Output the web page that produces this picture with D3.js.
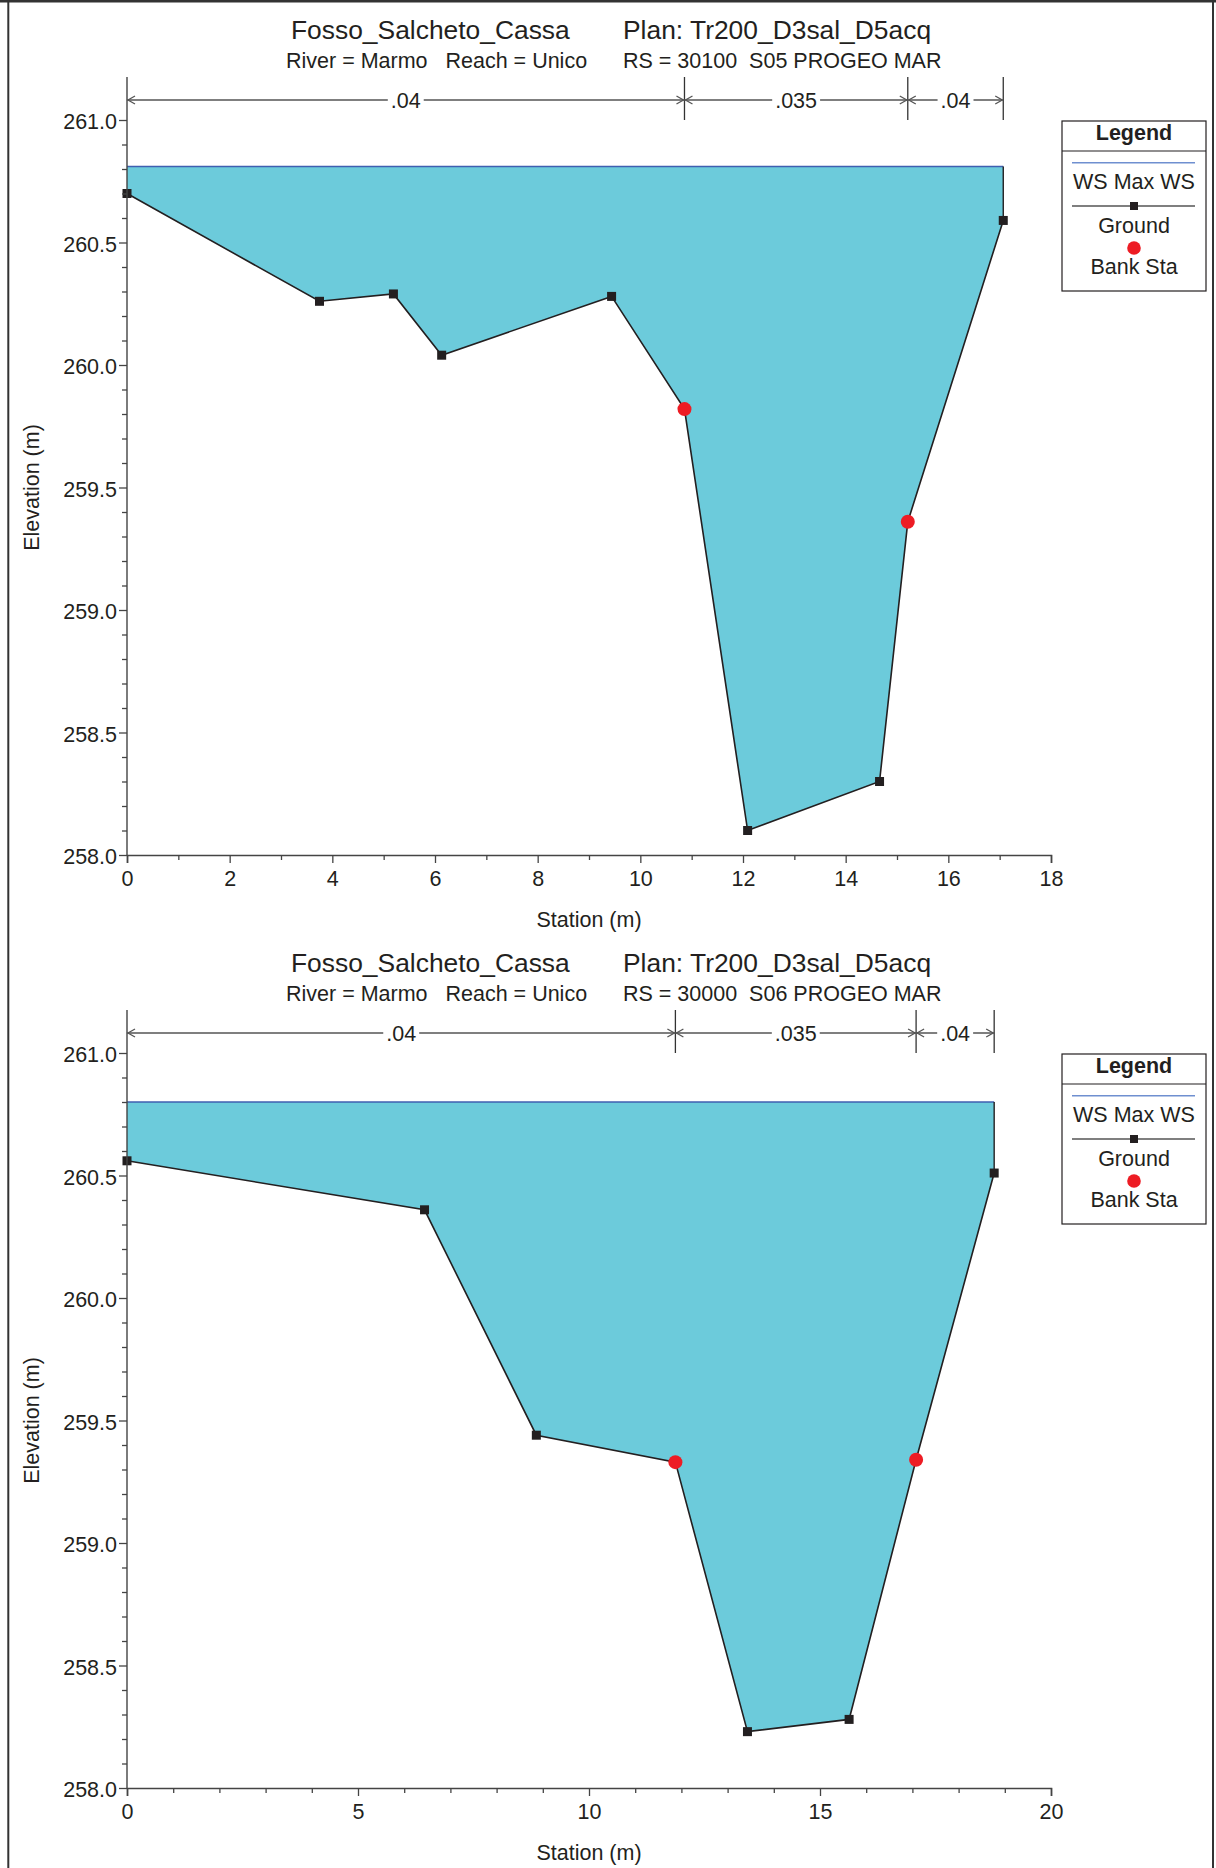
<!DOCTYPE html>
<html>
<head>
<meta charset="utf-8">
<script src="https://cdn.jsdelivr.net/npm/d3@7/dist/d3.min.js"></script>
<style>
  html, body { margin: 0; padding: 0; background: #fff; }
  svg { display: block; }
  text { font-family: "Liberation Sans", Arial, Helvetica, sans-serif; fill: #231f20; }
</style>
</head>
<body>
<script>
// ---------- DATA ----------
const chartTitle = "Fosso_Salcheto_Cassa";
const planTitle = "Plan: Tr200_D3sal_D5acq";
const riverReach = "River = Marmo   Reach = Unico";

// Top cross-section (RS 30100)
const topRS = "RS = 30100  S05 PROGEO MAR";
const topStation   = [0, 3.75, 5.19, 6.13, 9.44, 10.86, 12.09, 14.66, 15.21, 17.07];
const topElevation = [260.70, 260.26, 260.29, 260.04, 260.28, 259.82, 258.10, 258.30, 259.36, 260.59];
const topWS = 260.81;
const topBankSta  = [10.86, 15.21];
const topBankElev = [259.82, 259.36];
const topNBreaks = [0, 10.86, 15.21, 17.07];
const topNValues = [".04", ".035", ".04"];
const topXDomain = [0, 18];
const topXTicks = [0, 2, 4, 6, 8, 10, 12, 14, 16, 18];
const topXMinorTicks = [1, 3, 5, 7, 9, 11, 13, 15, 17];

// Bottom cross-section (RS 30000)
const botRS = "RS = 30000  S06 PROGEO MAR";
const botStation   = [0, 6.44, 8.86, 11.87, 13.43, 15.63, 17.08, 18.77];
const botElevation = [260.56, 260.36, 259.44, 259.33, 258.23, 258.28, 259.34, 260.51];
const botWS = 260.80;
const botBankSta  = [11.87, 17.08];
const botBankElev = [259.33, 259.34];
const botNBreaks = [0, 11.87, 17.08, 18.77];
const botNValues = [".04", ".035", ".04"];
const botXDomain = [0, 20];
const botXTicks = [0, 5, 10, 15, 20];
const botXMinorTicks = [1, 2, 3, 4, 6, 7, 8, 9, 11, 12, 13, 14, 16, 17, 18, 19];

const yDomain = [258, 261];
const yTicks = [258.0, 258.5, 259.0, 259.5, 260.0, 260.5, 261.0];
const yMinorTicks = [258.1, 258.2, 258.3, 258.4, 258.6, 258.7, 258.8, 258.9,
                     259.1, 259.2, 259.3, 259.4, 259.6, 259.7, 259.8, 259.9,
                     260.1, 260.2, 260.3, 260.4, 260.6, 260.7, 260.8, 260.9];

const legendItems = ["WS Max WS", "Ground", "Bank Sta"];

// ---------- STYLE ----------
const W = 1216, H = 1868;
const FS = 21.5;
const waterFill = "#6ccbdb";
const wsColor = "#3f5fb0";
const axisColor = "#444";

const svg = d3.select("body").append("svg").attr("width", W).attr("height", H);

// outer frame
svg.append("line").attr("x1", 0).attr("x2", W).attr("y1", 1.2).attr("y2", 1.2)
  .attr("stroke", "#333").attr("stroke-width", 2.5);
svg.append("line").attr("x1", 8.3).attr("x2", 8.3).attr("y1", 0).attr("y2", H)
  .attr("stroke", "#333").attr("stroke-width", 2);
svg.append("line").attr("x1", 1213).attr("x2", 1213).attr("y1", 0).attr("y2", H)
  .attr("stroke", "#333").attr("stroke-width", 2);

function drawSection(cfg, oy) {
  const g = svg.append("g").attr("transform", `translate(0,${oy})`);
  const x = d3.scaleLinear().domain(cfg.xDomain).range([127, 1051]);
  const y = d3.scaleLinear().domain(yDomain).range([855, 120]);
  const plotTop = 77;
  const nY = 100;

  // titles
  g.append("text").attr("x", 291).attr("y", 38.5).attr("font-size", 26.4).text(chartTitle);
  g.append("text").attr("x", 623).attr("y", 38.5).attr("font-size", 26.4).text(planTitle);
  g.append("text").attr("x", 286).attr("y", 68).attr("font-size", FS)
    .attr("xml:space", "preserve").style("white-space", "pre").text(riverReach);
  g.append("text").attr("x", 623).attr("y", 68).attr("font-size", FS)
    .attr("xml:space", "preserve").style("white-space", "pre").text(cfg.rs);

  const pts = cfg.station.map((s, i) => ({ s, e: cfg.elev[i] }));

  // water
  const area = d3.area().x(d => x(d.s)).y0(y(cfg.ws)).y1(d => y(d.e));
  g.append("path").datum(pts).attr("d", area).attr("fill", waterFill);
  g.append("line").attr("x1", x(cfg.station[0])).attr("x2", x(cfg.station[cfg.station.length - 1]))
    .attr("y1", y(cfg.ws)).attr("y2", y(cfg.ws)).attr("stroke", wsColor).attr("stroke-width", 1.6);

  // right edge of water
  const last = pts[pts.length - 1];
  g.append("path").datum([last, { s: last.s, e: cfg.ws }])
    .attr("d", d3.line().x(d => x(d.s)).y(d => y(d.e)))
    .attr("stroke", "#231f20").attr("stroke-width", 1.4).attr("fill", "none");

  // ground
  g.append("path").datum(pts).attr("d", d3.line().x(d => x(d.s)).y(d => y(d.e)))
    .attr("fill", "none").attr("stroke", "#231f20").attr("stroke-width", 1.6);
  g.selectAll("rect.gp").data(pts.filter(d => !cfg.bankSta.includes(d.s))).enter().append("rect")
    .attr("x", d => x(d.s) - 4.5).attr("y", d => y(d.e) - 4.5)
    .attr("width", 9).attr("height", 9).attr("fill", "#231f20");
  // bank stations
  g.selectAll("circle.bank").data(cfg.bankSta.map((s, i) => ({ s, e: cfg.bankElev[i] }))).enter()
    .append("circle").attr("cx", d => x(d.s)).attr("cy", d => y(d.e)).attr("r", 7)
    .attr("fill", "#ed1c24");

  // y axis
  const yAxis = g.append("g").attr("transform", "translate(127,0)")
    .call(d3.axisLeft(y).tickValues(yTicks).tickSize(8).tickPadding(2).tickFormat(d3.format(".1f")));
  yAxis.select(".domain").remove();
  yAxis.selectAll(".tick line").attr("stroke", axisColor).attr("stroke-width", 1.3);
  yAxis.selectAll("text").attr("font-size", FS).attr("font-family", null).attr("dy", "0.4em");
  const yMinor = g.append("g").attr("transform", "translate(127,0)")
    .call(d3.axisLeft(y).tickValues(yMinorTicks).tickSize(5).tickFormat(""));
  yMinor.select(".domain").remove();
  yMinor.selectAll(".tick line").attr("stroke", axisColor).attr("stroke-width", 1.3);
  g.append("line").attr("x1", 127).attr("x2", 127).attr("y1", plotTop).attr("y2", y(258))
    .attr("stroke", axisColor).attr("stroke-width", 1.4);

  // x axis
  const xAxis = g.append("g").attr("transform", `translate(0,${y(258)})`)
    .call(d3.axisBottom(x).tickValues(cfg.xTicks).tickSize(8).tickPadding(8));
  xAxis.select(".domain").attr("stroke", axisColor).attr("stroke-width", 1.6);
  xAxis.selectAll(".tick line").attr("stroke", axisColor).attr("stroke-width", 1.3);
  xAxis.selectAll("text").attr("font-size", FS).attr("font-family", null);
  const xMinor = g.append("g").attr("transform", `translate(0,${y(258)})`)
    .call(d3.axisBottom(x).tickValues(cfg.xMinor).tickSize(5).tickFormat(""));
  xMinor.select(".domain").remove();
  xMinor.selectAll(".tick line").attr("stroke", axisColor).attr("stroke-width", 1.3);

  // axis titles
  g.append("text").attr("x", x((cfg.xDomain[0] + cfg.xDomain[1]) / 2)).attr("y", 927)
    .attr("text-anchor", "middle").attr("font-size", FS).text("Station (m)");
  g.append("text").attr("transform", `translate(38.5,${(y(258) + y(261)) / 2}) rotate(-90)`)
    .attr("text-anchor", "middle").attr("font-size", FS).text("Elevation (m)");

  // Manning's n
  const nColor = "#555";
  cfg.nBreaks.forEach((b, i) => {
    if (i > 0) g.append("line").attr("x1", x(b)).attr("x2", x(b)).attr("y1", plotTop).attr("y2", y(261))
      .attr("stroke", "#333").attr("stroke-width", 1.3);
  });
  cfg.nValues.forEach((v, i) => {
    const a = x(cfg.nBreaks[i]), b = x(cfg.nBreaks[i + 1]);
    g.append("line").attr("x1", a).attr("x2", b).attr("y1", nY).attr("y2", nY)
      .attr("stroke", nColor).attr("stroke-width", 1.5);
    g.append("path").attr("d", `M${a + 8},${nY - 4}L${a + 1},${nY}L${a + 8},${nY + 4}`)
      .attr("stroke", nColor).attr("stroke-width", 1.3).attr("fill", "none");
    g.append("path").attr("d", `M${b - 8},${nY - 4}L${b - 1},${nY}L${b - 8},${nY + 4}`)
      .attr("stroke", nColor).attr("stroke-width", 1.3).attr("fill", "none");
    const t = g.append("text").attr("x", (a + b) / 2).attr("y", nY + 7.5)
      .attr("text-anchor", "middle").attr("font-size", FS).text(v);
    const bb = t.node().getBBox();
    g.insert("rect", () => t.node()).attr("x", bb.x - 3).attr("y", nY - 3)
      .attr("width", bb.width + 6).attr("height", 6).attr("fill", "#fff");
  });

  // legend
  const L = g.append("g");
  L.append("rect").attr("x", 1062).attr("y", 121).attr("width", 144).attr("height", 170)
    .attr("fill", "#fff").attr("stroke", "#231f20").attr("stroke-width", 1.2);
  L.append("line").attr("x1", 1062).attr("x2", 1206).attr("y1", 151).attr("y2", 151)
    .attr("stroke", "#231f20").attr("stroke-width", 1.2);
  L.append("text").attr("x", 1134).attr("y", 140).attr("text-anchor", "middle")
    .attr("font-size", FS).attr("font-weight", "bold").text("Legend");
  L.append("line").attr("x1", 1072).attr("x2", 1195).attr("y1", 162.7).attr("y2", 162.7)
    .attr("stroke", "#6f8fd0").attr("stroke-width", 1.6);
  L.append("text").attr("x", 1134).attr("y", 189).attr("text-anchor", "middle")
    .attr("font-size", FS).text(legendItems[0]);
  L.append("line").attr("x1", 1072).attr("x2", 1195).attr("y1", 206).attr("y2", 206)
    .attr("stroke", "#555").attr("stroke-width", 1.5);
  L.append("rect").attr("x", 1130).attr("y", 202).attr("width", 8).attr("height", 8).attr("fill", "#231f20");
  L.append("text").attr("x", 1134).attr("y", 232.5).attr("text-anchor", "middle")
    .attr("font-size", FS).text(legendItems[1]);
  L.append("circle").attr("cx", 1134).attr("cy", 248).attr("r", 6.8).attr("fill", "#ed1c24");
  L.append("text").attr("x", 1134).attr("y", 274).attr("text-anchor", "middle")
    .attr("font-size", FS).text(legendItems[2]);
}

drawSection({
  rs: topRS, station: topStation, elev: topElevation, ws: topWS,
  bankSta: topBankSta, bankElev: topBankElev, nBreaks: topNBreaks, nValues: topNValues,
  xDomain: topXDomain, xTicks: topXTicks, xMinor: topXMinorTicks
}, 0);

drawSection({
  rs: botRS, station: botStation, elev: botElevation, ws: botWS,
  bankSta: botBankSta, bankElev: botBankElev, nBreaks: botNBreaks, nValues: botNValues,
  xDomain: botXDomain, xTicks: botXTicks, xMinor: botXMinorTicks
}, 933);
</script>
</body>
</html>
